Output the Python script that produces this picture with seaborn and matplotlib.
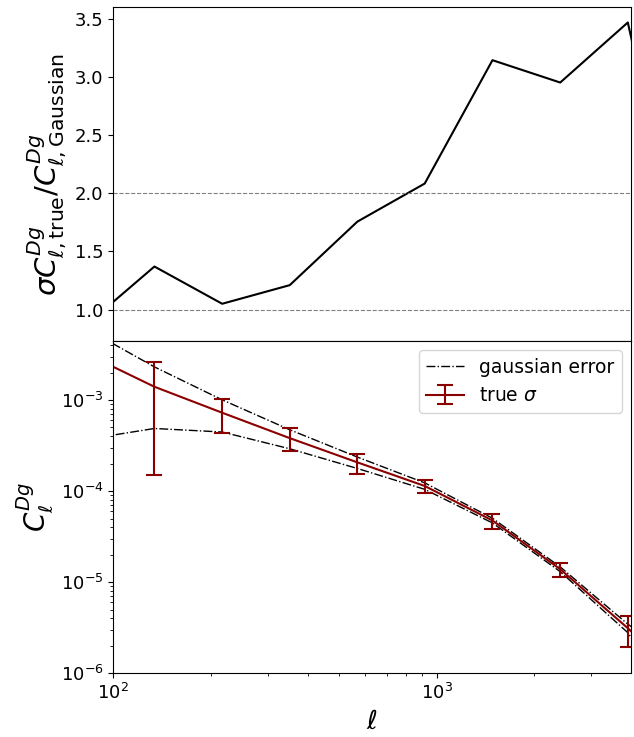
import numpy as np
import pandas as pd
import matplotlib
matplotlib.use("Agg")
import matplotlib.pyplot as plt
import seaborn as sns

# ---- data ----
ell = [82.7, 134, 217, 351, 568, 917, 1485, 2405, 3890, 6295]
cl_theory = [3.21e-3, 1.40e-3, 7.26e-4, 3.82e-4, 2.07e-4, 1.14e-4, 4.76e-5, 1.39e-5, 3.13e-6, 6.3e-7]
sigma_true = [2.47e-3, 1.25e-3, 2.94e-4, 1.09e-4, 5.2e-5, 1.94e-5, 8.9e-6, 2.45e-6, 1.16e-6, 3.5e-7]
ratio = [0.87, 1.37, 1.05, 1.21, 1.756, 2.083, 3.143, 2.951, 3.467, 0.87]
ratio_refs = [1.0, 2.0]

ell_a = np.array(ell)
cl_a = np.array(cl_theory)
sig_t = np.array(sigma_true)
sig_g = sig_t / np.array(ratio)

df = pd.DataFrame({"ell": ell_a, "cl": cl_a, "ratio": ratio,
                   "upper": cl_a + sig_g, "lower": cl_a - sig_g})

plt.rcParams.update({"font.size": 13, "xtick.labelsize": 13,
                     "ytick.labelsize": 13, "legend.fontsize": 13.5})

fig = plt.figure(figsize=(6.34, 7.37), dpi=100)
ax1 = fig.add_axes([0.1787, 0.5373, 0.8166, 0.4532])
ax2 = fig.add_axes([0.1787, 0.0864, 0.8166, 0.4509], sharex=ax1)

# top panel
sns.lineplot(data=df, x="ell", y="ratio", color="black", lw=1.5, ax=ax1,
             estimator=None, sort=False)
for r in ratio_refs:
    ax1.axhline(r, ls="--", color="gray", lw=0.8)
ax1.set_xscale("log")
ax1.set_ylim(0.73, 3.6)
ax1.set_yticks([1.0, 1.5, 2.0, 2.5, 3.0, 3.5])
ax1.set_ylabel(r"$\sigma C^{Dg}_{\ell,\mathrm{true}}/C^{Dg}_{\ell,\mathrm{Gaussian}}$", fontsize=21)
ax1.set_xlabel("")
ax1.tick_params(axis="x", which="both", labelbottom=False)

# bottom panel
sns.lineplot(data=df, x="ell", y="upper", color="black", lw=1, ls="-.", ax=ax2,
             estimator=None, sort=False, label="gaussian error")
sns.lineplot(data=df, x="ell", y="lower", color="black", lw=1, ls="-.", ax=ax2,
             estimator=None, sort=False)
ax2.errorbar(ell_a, cl_a, yerr=sig_t, fmt="-", color="darkred", lw=1.5,
             capsize=6, capthick=1.5, label=r"true $\sigma$")
ax2.set_xscale("log")
ax2.set_yscale("log")
ax2.set_xlim(100, 3980)
ax2.set_ylim(1e-6, 4.45e-3)
ax2.set_ylabel(r"$C_\ell^{Dg}$", fontsize=20)
ax2.set_xlabel(r"$\ell$", fontsize=19)
ax2.legend(loc="upper right")

fig.savefig("out.png", dpi=100)
